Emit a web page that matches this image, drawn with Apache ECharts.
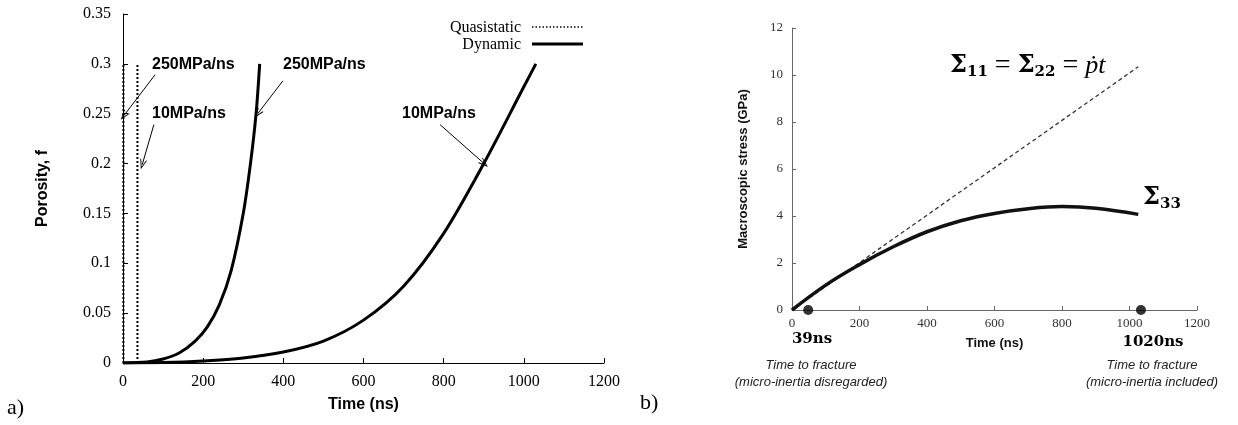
<!DOCTYPE html>
<html><head><meta charset="utf-8">
<script src="https://cdn.jsdelivr.net/npm/echarts@6/dist/echarts.min.js"></script>
<style>html,body{margin:0;padding:0;background:#fff}#c{width:1238px;height:425px}</style>
</head><body><div id="c"></div>
<script>
// ---------- Panel a data ----------
const qs250T = [1, 1];
const qs250F = [0, 0.3];
const qs10T = [36, 36];
const qs10F = [0, 0.3];
const dyn250T = [0, 60, 100, 140, 180, 210, 240, 270, 300, 318, 332, 341];
const dyn250F = [0, 0.001, 0.004, 0.01, 0.022, 0.036, 0.058, 0.093, 0.15, 0.2, 0.25, 0.3];
const dyn10T = [0, 100, 200, 300, 400, 500, 600, 700, 800, 900, 1000, 1030];
const dyn10F = [0, 0.0004, 0.002, 0.005, 0.011, 0.022, 0.043, 0.077, 0.13, 0.2, 0.277, 0.3];
const xTicksA = [0, 1200, 200];
const yTicksA = [0, 0.35, 0.05];
const legendNames = ['Quasistatic', 'Dynamic'];
// annotation arrows (data units): [fromT, fromF, toT, toF]
const arrowsA = [
  [80, 0.289, 2, 0.248],
  [77, 0.239, 48, 0.199],
  [399, 0.283, 336, 0.25],
  [791, 0.239, 901, 0.2]
];
// ---------- Panel b data ----------
const sigT = [0, 1026];
const sigS = [0, 10.35];
const s33T = [0, 100, 200, 300, 400, 500, 600, 700, 800, 900, 1026];
const s33S = [0, 1.06, 1.93, 2.69, 3.33, 3.80, 4.11, 4.31, 4.40, 4.33, 4.07];
const fracT = [48, 1034];
const fracS = [0, 0];
const xTicksB = [0, 1200, 200];
const yTicksB = [0, 12, 2];

const zip = (a, b) => a.map((v, i) => [v, b[i]]);
const SERIF = '"Liberation Serif", "Times New Roman", serif';
const SANS = '"Liberation Sans", Arial, sans-serif';
const DJS = '"DejaVu Serif", serif';
const chevron = 'path://M5,0 L10,10 L8.6,10 L5,2.8 L1.4,10 L0,10 Z';
const plain = v => String(v);

const chart = echarts.init(document.getElementById('c'), null, {renderer: 'canvas'});

function txt(text, x, y, font, align, fill) {
  return {
    type: 'text', x: x, y: y, silent: true,
    style: {text: text, font: font, fill: fill || '#000', textAlign: align || 'left', textVerticalAlign: 'middle'}
  };
}

const option = {
  animation: false,
  backgroundColor: '#fff',
  grid: [
    {left: 123, top: 14, width: 481, height: 349},
    {left: 792, top: 28, width: 405, height: 282}
  ],
  xAxis: [
    {gridIndex: 0, type: 'value', min: xTicksA[0], max: xTicksA[1], interval: xTicksA[2],
     axisLine: {lineStyle: {color: '#000', width: 1}},
     axisTick: {inside: true, length: 5, lineStyle: {color: '#000'}},
     axisLabel: {fontFamily: SERIF, fontSize: 16, color: '#000', margin: 11, formatter: plain},
     splitLine: {show: false},
     name: 'Time (ns)', nameLocation: 'middle', nameGap: 34,
     nameTextStyle: {fontFamily: SANS, fontWeight: 'bold', fontSize: 16, color: '#000'}},
    {gridIndex: 1, type: 'value', min: xTicksB[0], max: xTicksB[1], interval: xTicksB[2],
     axisLine: {lineStyle: {color: '#666', width: 1}},
     axisTick: {inside: true, length: 4, lineStyle: {color: '#666'}},
     axisLabel: {fontFamily: SERIF, fontSize: 13, color: '#333', margin: 7, formatter: plain},
     splitLine: {show: false},
     name: 'Time (ns)', nameLocation: 'middle', nameGap: 27,
     nameTextStyle: {fontFamily: SANS, fontWeight: 'bold', fontSize: 13, color: '#111'}}
  ],
  yAxis: [
    {gridIndex: 0, type: 'value', min: yTicksA[0], max: yTicksA[1], interval: yTicksA[2],
     axisLine: {show: true, lineStyle: {color: '#000', width: 1}},
     axisTick: {show: true, inside: true, length: 5, lineStyle: {color: '#000'}},
     axisLabel: {fontFamily: SERIF, fontSize: 16, color: '#000', margin: 12},
     splitLine: {show: false},
     name: 'Porosity, f', nameLocation: 'middle', nameGap: 72, nameRotate: 90,
     nameTextStyle: {fontFamily: SANS, fontWeight: 'bold', fontSize: 16, color: '#000'}},
    {gridIndex: 1, type: 'value', min: yTicksB[0], max: yTicksB[1], interval: yTicksB[2],
     axisLine: {show: true, lineStyle: {color: '#666', width: 1}},
     axisTick: {show: true, inside: true, length: 4, lineStyle: {color: '#666'}},
     axisLabel: {fontFamily: SERIF, fontSize: 13, color: '#333', margin: 9},
     splitLine: {show: false},
     name: 'Macroscopic stress (GPa)', nameLocation: 'middle', nameGap: 42, nameRotate: 90,
     nameTextStyle: {fontFamily: SANS, fontWeight: 'bold', fontSize: 13, color: '#111'}}
  ],
  series: [
    {name: legendNames[0], type: 'line', xAxisIndex: 0, yAxisIndex: 0, data: zip(qs250T, qs250F),
     symbol: 'none', lineStyle: {color: '#000', width: 2, type: [2, 2]}, itemStyle: {color: '#000'},
     markLine: {silent: true, symbol: ['none', chevron], symbolSize: [7, 10],
       lineStyle: {color: '#000', width: 1, type: 'solid'}, label: {show: false},
       data: arrowsA.map(a => [{coord: [a[0], a[1]]}, {coord: [a[2], a[3]]}])}},
    {name: legendNames[0], type: 'line', xAxisIndex: 0, yAxisIndex: 0, data: zip(qs10T, qs10F),
     symbol: 'none', lineStyle: {color: '#000', width: 2, type: [2, 2]}, itemStyle: {color: '#000'}},
    {name: legendNames[1], type: 'line', xAxisIndex: 0, yAxisIndex: 0, data: zip(dyn250T, dyn250F),
     symbol: 'none', smooth: 0.3, lineStyle: {color: '#000', width: 3}, itemStyle: {color: '#000'}},
    {name: legendNames[1], type: 'line', xAxisIndex: 0, yAxisIndex: 0, data: zip(dyn10T, dyn10F),
     symbol: 'none', smooth: 0.3, lineStyle: {color: '#000', width: 3}, itemStyle: {color: '#000'}},
    {name: 'Sigma11', type: 'line', xAxisIndex: 1, yAxisIndex: 1, data: zip(sigT, sigS),
     symbol: 'none', lineStyle: {color: '#333', width: 1.3, type: [4, 3]}},
    {name: 'Sigma33', type: 'line', xAxisIndex: 1, yAxisIndex: 1, data: zip(s33T, s33S),
     symbol: 'none', smooth: 0.4, lineStyle: {color: '#111', width: 3.5}},
    {name: 'Fracture', type: 'scatter', xAxisIndex: 1, yAxisIndex: 1, data: zip(fracT, fracS),
     symbol: 'circle', symbolSize: 10, clip: false, itemStyle: {color: '#000'}}
  ],
  graphic: [
    // legend (panel a)
    txt(legendNames[0], 521, 28, '16px ' + SERIF, 'right'),
    txt(legendNames[1], 521, 45, '16px ' + SERIF, 'right'),
    {type: 'line', silent: true, shape: {x1: 532, y1: 27, x2: 583, y2: 27},
     style: {stroke: '#000', lineWidth: 1.5, lineDash: [1.5, 2]}},
    {type: 'line', silent: true, shape: {x1: 532, y1: 44, x2: 583, y2: 44},
     style: {stroke: '#000', lineWidth: 3}},
    txt('250MPa/ns', 152, 65, 'bold 16px ' + SANS),
    txt('10MPa/ns', 152, 114, 'bold 16px ' + SANS),
    txt('250MPa/ns', 283, 65, 'bold 16px ' + SANS),
    txt('10MPa/ns', 402, 114, 'bold 16px ' + SANS),
    txt('a)', 7, 408, '22px ' + SERIF),
    txt('b)', 640, 403, '22px ' + SERIF),
    txt('39ns', 812, 339, 'bold 15px ' + DJS, 'center'),
    txt('Time to fracture', 811, 365, 'italic 13px ' + SANS, 'center', '#222'),
    txt('(micro-inertia disregarded)', 811, 382, 'italic 13px ' + SANS, 'center', '#222'),
    txt('1020ns', 1153, 342, 'bold 15px ' + DJS, 'center'),
    txt('Time to fracture', 1152, 365, 'italic 13px ' + SANS, 'center', '#222'),
    txt('(micro-inertia included)', 1152, 382, 'italic 13px ' + SANS, 'center', '#222'),
    {type: 'text', x: 950, y: 66, silent: true,
     style: {text: '{S|Σ}{s|11}{e| = }{S|Σ}{s|22}{e| = }{i|ṗt}', textVerticalAlign: 'middle', fill: '#000',
       rich: {
         S: {fontFamily: DJS, fontWeight: 'bold', fontSize: 24, lineHeight: 34, verticalAlign: 'middle'},
         s: {fontFamily: DJS, fontWeight: 'bold', fontSize: 15, lineHeight: 34, verticalAlign: 'bottom', padding: [0, 0, 3, 0]},
         e: {fontFamily: SERIF, fontSize: 28, lineHeight: 34, verticalAlign: 'middle'},
         i: {fontFamily: SERIF, fontStyle: 'italic', fontSize: 26, lineHeight: 34, verticalAlign: 'middle'}
       }}},
    {type: 'text', x: 1143, y: 198, silent: true,
     style: {text: '{S|Σ}{s|33}', textVerticalAlign: 'middle', fill: '#000',
       rich: {
         S: {fontFamily: DJS, fontWeight: 'bold', fontSize: 24, lineHeight: 34, verticalAlign: 'middle'},
         s: {fontFamily: DJS, fontWeight: 'bold', fontSize: 15, lineHeight: 34, verticalAlign: 'bottom', padding: [0, 0, 3, 0]}
       }}}
  ]
};
chart.setOption(option);
</script>
</body></html>
